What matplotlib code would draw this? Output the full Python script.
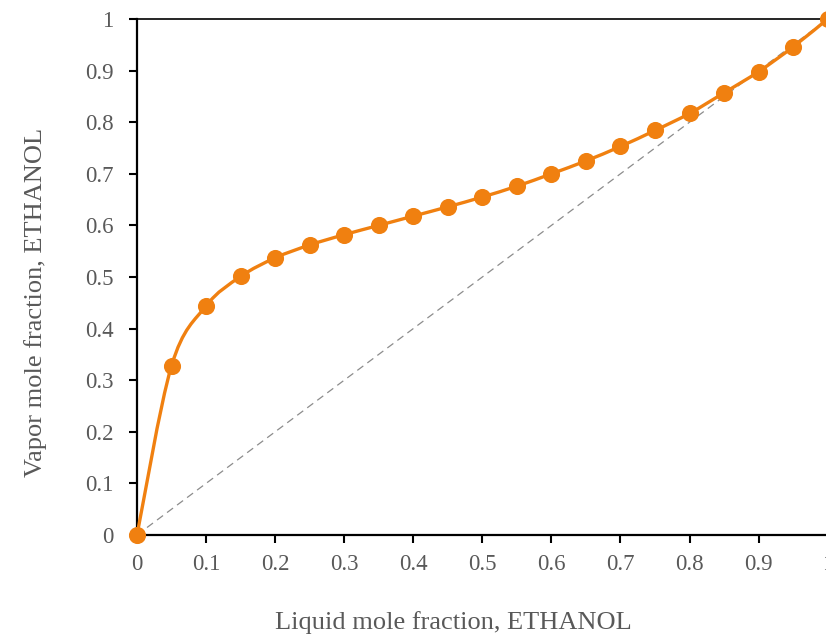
import numpy as np
import matplotlib
matplotlib.use("Agg")
import matplotlib.pyplot as plt
from matplotlib.path import Path
from matplotlib.patches import PathPatch

x_liquid = [0.0, 0.05, 0.1, 0.15, 0.2, 0.25, 0.3, 0.35, 0.4, 0.45, 0.5,
            0.55, 0.6, 0.65, 0.7, 0.75, 0.8, 0.85, 0.9, 0.95, 1.0]
y_vapor = [0.0, 0.328, 0.444, 0.501, 0.537, 0.562, 0.582, 0.600, 0.618, 0.636, 0.655,
           0.676, 0.700, 0.725, 0.753, 0.784, 0.817, 0.857, 0.898, 0.946, 1.0]
ticks = [0, 0.1, 0.2, 0.3, 0.4, 0.5, 0.6, 0.7, 0.8, 0.9, 1]
tick_labels = ["0", "0.1", "0.2", "0.3", "0.4", "0.5", "0.6", "0.7", "0.8", "0.9", "1"]
xlabel = "Liquid mole fraction, ETHANOL"
ylabel = "Vapor mole fraction, ETHANOL"

orange = "#F08010"
grey = "#595959"

plt.rcParams['font.family'] = ['Liberation Serif', 'DejaVu Serif']

fig = plt.figure(figsize=(8.26, 6.4), dpi=100)
ax = fig.add_axes([137/826, 105/640, 1 - 137/826 + 0.002, (535-19)/640])

# diagonal reference
ax.plot([0, 1], [0, 1], color="#8c8c8c", lw=0.9, ls=(0, (6, 4)), zorder=2)

# smoothed line (Catmull-Rom style bezier through data points)
pts = np.column_stack([x_liquid, y_vapor])
n = len(pts)
verts = [tuple(pts[0])]
codes = [Path.MOVETO]
for i in range(n - 1):
    p0 = pts[i - 1] if i > 0 else pts[i]
    p1 = pts[i]
    p2 = pts[i + 1]
    p3 = pts[i + 2] if i + 2 < n else pts[i + 1]
    c1 = p1 + (p2 - p0) / 6.0
    c2 = p2 - (p3 - p1) / 6.0
    verts += [tuple(c1), tuple(c2), tuple(p2)]
    codes += [Path.CURVE4, Path.CURVE4, Path.CURVE4]
patch = PathPatch(Path(verts, codes), fill=False, edgecolor=orange, lw=2.4,
                  zorder=3, capstyle='round', joinstyle='round')
ax.add_patch(patch)

ax.plot(x_liquid, y_vapor, 'o', color=orange, ms=11.3, zorder=4, clip_on=False)

ax.set_xlim(0, 1)
ax.set_ylim(0, 1)
ax.set_xticks(ticks)
ax.set_xticklabels(tick_labels)
ax.set_yticks(ticks)
ax.set_yticklabels(tick_labels)

for s in ["left", "bottom"]:
    ax.spines[s].set_color("black")
    ax.spines[s].set_linewidth(1.6)
ax.spines["top"].set_color("black")
ax.spines["top"].set_linewidth(1.2)
ax.spines["right"].set_visible(False)

ax.tick_params(axis='both', direction='out', length=6, width=1.5, color='black',
               labelcolor=grey, labelsize=16.5)
ax.tick_params(axis='x', pad=8)
ax.tick_params(axis='y', pad=11)

ax.set_xlabel(xlabel, fontsize=19, color=grey)
ax.set_ylabel(ylabel, fontsize=19, color=grey)
ax.xaxis.set_label_coords(0.4587, -0.147)
ax.yaxis.set_label_coords(-0.1306, 0.4516)

fig.savefig("out.png", dpi=100)
